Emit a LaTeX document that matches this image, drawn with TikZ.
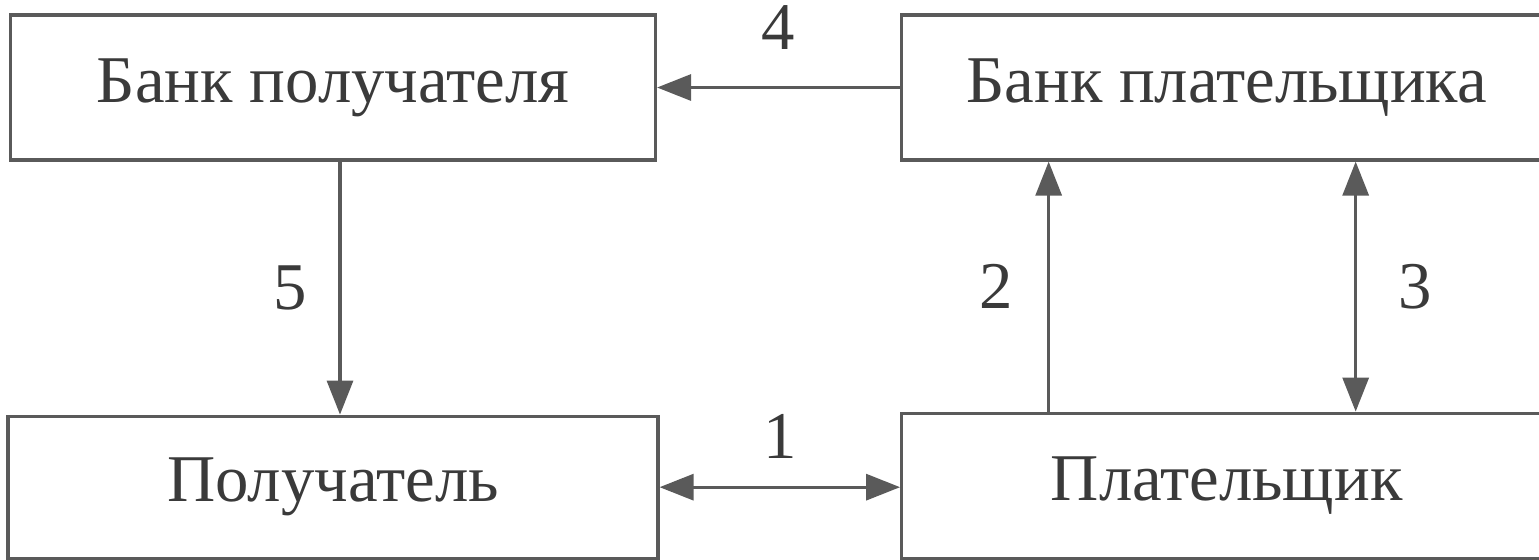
\documentclass[tikz,border=0pt]{standalone}
\usepackage{fontspec}
\setmainfont{Liberation Serif}
\usetikzlibrary{arrows.meta, positioning}

\definecolor{ink}{HTML}{3A3A3A}
\definecolor{edge}{HTML}{5A5A5A}

\begin{document}
\begin{tikzpicture}[node distance=2.5cm, font=\fontsize{19}{22}\selectfont, text=ink,
  box/.style={draw=edge, line width=0.9pt, minimum width=6.5cm, minimum height=1.45cm},
  link/.style={draw=edge, line width=0.9pt, -{Triangle[length=3.4mm, width=2.6mm]}},
  both/.style={link, {Triangle[length=3.4mm, width=2.6mm]}-{Triangle[length=3.4mm, width=2.6mm]}}]
\useasboundingbox (0,0) rectangle (15.39,-5.59);
\node[box, minimum width=6.45cm] (bankR) at (3.33,-0.875) {Банк получателя};
\node[box, right=2.43cm of bankR] (bankP) {Банк плательщика};
\node[box, below=2.53cm of bankR, minimum height=1.42cm] (recv) {Получатель};
\node[box, below=2.5cm of bankP] (payer) {Плательщик};

\draw[link] (bankP.west) -- node[above=0.25cm] {4} (bankR.east);
\draw[link] ([xshift=0.07cm]bankR.south) -- node[left=0.2cm] {5} ([xshift=0.07cm]bankR.south |- recv.north);
\draw[link] ([xshift=-1.78cm]payer.north) -- node[left=0.22cm] {2} ([xshift=-1.78cm]payer.north |- bankP.south);
\draw[both] ([xshift=1.29cm]payer.north) -- node[right=0.3cm] {3} ([xshift=1.29cm]payer.north |- bankP.south);
\draw[both] (recv.east) -- node[above=0.15cm] {1} (recv.east -| payer.west);
\end{tikzpicture}
\end{document}
